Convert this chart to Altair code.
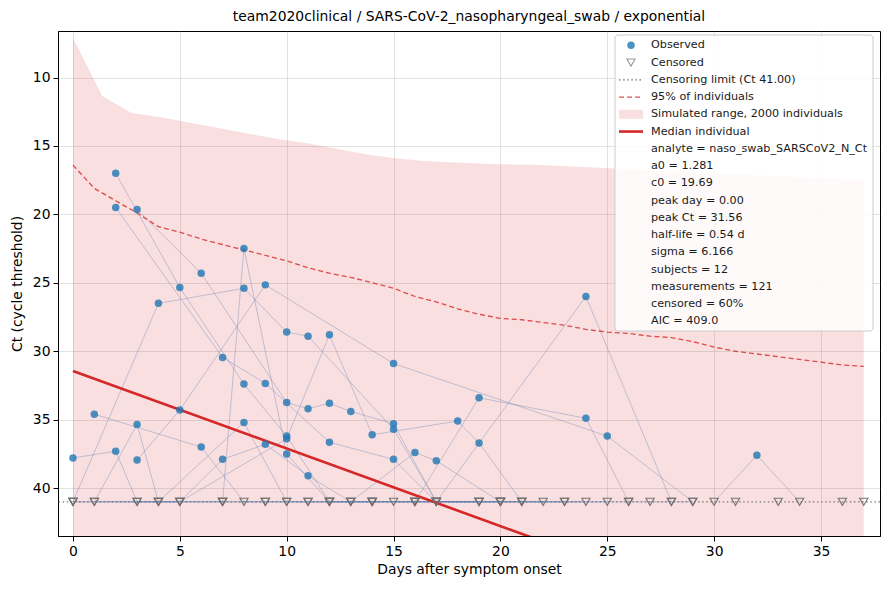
import altair as alt
import pandas as pd

FONT = "DejaVu Sans"
LOD = 41.0
C = None  # censored measurement (Ct >= limit)

# ---- per-subject measurements (day, Ct); None = censored ----
s01_day = [0, 2, 3, 5, 7, 9, 11, 13, 15, 17, 20]
s01_ct = [37.8, 37.3, C, C, C, C, C, C, C, C, C]
s02_day = [0, 4, 8, 10, 12, 14, 16, 19, 24, 26, 27, 28]
s02_ct = [C, C, 35.2, C, C, C, C, 33.4, 34.9, C, C, C]
s03_day = [1, 6, 8, 10, 12, 14, 16, 19, 21, 23]
s03_ct = [34.6, 37.0, C, C, C, C, C, C, C, C]
s04_day = [1, 3, 4, 7, 9, 11, 13, 17, 24, 28, 29]
s04_ct = [C, 35.35, C, C, C, C, C, C, 26.0, C, C]
s05_day = [3, 5, 9, 15, 25, 29]
s05_ct = [37.95, 34.3, 25.15, 30.9, 36.2, C]
s06_day = [2, 5, 8, 10, 12, 14, 16, 19, 21]
s06_ct = [17.0, 25.35, 32.4, 36.2, C, C, C, C, C]
s07_day = [3, 6, 10, 11, 12, 13, 15, 17, 20]
s07_ct = [19.65, 24.3, 33.75, 34.2, 33.8, 34.4, 35.3, C, C]
s08_day = [1, 4, 7, 8, 10, 12, 14, 16, 19]
s08_ct = [C, C, C, 22.5, 37.5, C, C, C, C]
s09_day = [0, 4, 8, 10, 11, 15, 17, 20, 24]
s09_ct = [C, 26.5, 25.4, 28.6, 28.9, 35.7, C, C, C]
s10_day = [2, 7, 9, 12, 15, 17, 20, 25]
s10_ct = [19.5, 30.45, 32.35, 36.65, 37.9, C, C, C]
s11_day = [3, 5, 7, 9, 11, 13, 16, 17, 20, 22]
s11_ct = [C, C, 37.9, 36.8, 39.1, C, 37.4, 38.0, C, C]
s12_day = [0, 5, 10, 12, 14, 18, 19, 21, 23, 26]
s12_ct = [C, C, 36.4, 28.8, 36.1, 35.1, 36.7, C, C, C]
s13_day = [30, 32, 34]
s13_ct = [C, 37.6, C]
iso_cens_day = [31, 33, 36, 37]

# ---- simulated range (upper edge = lowest Ct) ----
band_day = [0, 1.37, 2.74, 4.11, 5.48, 6.85, 8.22, 9.59, 10.96, 12.33, 13.70,
            15.07, 16.44, 17.81, 19.19, 20.56, 21.93, 23.30, 24.67, 26.04,
            27.41, 28.78, 30.15, 31.52, 32.89, 34.26, 35.63, 37.0]
band_low_ct = [7.1, 11.35, 12.6, 12.9, 13.3, 13.7, 14.1, 14.5, 14.8, 15.2, 15.6,
               15.9, 16.1, 16.2, 16.3, 16.35, 16.4, 16.5, 16.6, 16.7,
               16.8, 16.9, 17.0, 17.1, 17.2, 17.3, 17.4, 17.5]
band_high_ct = [60.0] * len(band_day)

# ---- 95% of individuals (dashed) ----
p95_day = list(range(0, 38))
p95_ct = [16.4, 18.1, 19.0, 19.9, 20.9, 21.3, 21.8, 22.2, 22.6, 23.0,
          23.4, 23.9, 24.3, 24.6, 25.0, 25.4, 26.0, 26.4, 26.9, 27.3,
          27.6, 27.7, 27.9, 28.1, 28.4, 28.6, 28.7, 28.9, 29.0, 29.3,
          29.7, 30.0, 30.2, 30.4, 30.6, 30.8, 31.0, 31.1]

# ---- median individual ----
med_day = [0, 37]
med_ct = [31.45, 52.4]

legend_labels = [
    "Observed", "Censored", "Censoring limit (Ct 41.00)", "95% of individuals",
    "Simulated range, 2000 individuals", "Median individual",
    "analyte = naso_swab_SARSCoV2_N_Ct", "a0 = 1.281", "c0 = 19.69",
    "peak day = 0.00", "peak Ct = 31.56", "half-life = 0.54 d",
    "sigma = 6.166", "subjects = 12", "measurements = 121",
    "censored = 60%", "AIC = 409.0",
]

# ---- build tables ----
subjects = [
    ("S01", s01_day, s01_ct), ("S02", s02_day, s02_ct), ("S03", s03_day, s03_ct),
    ("S04", s04_day, s04_ct), ("S05", s05_day, s05_ct), ("S06", s06_day, s06_ct),
    ("S07", s07_day, s07_ct), ("S08", s08_day, s08_ct), ("S09", s09_day, s09_ct),
    ("S10", s10_day, s10_ct), ("S11", s11_day, s11_ct), ("S12", s12_day, s12_ct),
    ("S13", s13_day, s13_ct),
]
rows = []
for sid, days, cts in subjects:
    for d, c in zip(days, cts):
        rows.append({"subject": sid, "day": d, "ct": LOD if c is None else c,
                     "cens": c is None})
for d in iso_cens_day:
    rows.append({"subject": "iso%d" % d, "day": d, "ct": LOD, "cens": True})
meas = pd.DataFrame(rows)
obs = meas[~meas["cens"]]
cens = meas[meas["cens"]]
lines_df = meas[~meas["subject"].str.startswith("iso")]

band = pd.DataFrame({"day": band_day, "lo": band_low_ct, "hi": band_high_ct})
p95 = pd.DataFrame({"day": p95_day, "ct": p95_ct})
med = pd.DataFrame({"day": med_day, "ct": med_ct})

xscale = alt.Scale(domain=[-0.7, 37.76], nice=False, zero=False)
yscale = alt.Scale(domain=[6.6, 43.5], reverse=True, nice=False, zero=False)
xaxis = alt.Axis(values=[0, 5, 10, 15, 20, 25, 30, 35], title="Days after symptom onset",
                 grid=True, format="d")
yaxis = alt.Axis(values=[10, 15, 20, 25, 30, 35, 40], title="Ct (cycle threshold)",
                 grid=True, format="d")


def X(field="day"):
    return alt.X(f"{field}:Q", scale=xscale, axis=xaxis, title="Days after symptom onset")


def Y(field="ct"):
    return alt.Y(f"{field}:Q", scale=yscale, axis=yaxis, title="Ct (cycle threshold)")


RED = "#d62728"
BLUE = "#1f77b4"
PT_SIZE = 56
TRI_SIZE = 68

band_layer = alt.Chart(band).mark_area(color=RED, opacity=0.15, clip=True).encode(
    x=X(), y=Y("lo"), y2="hi:Q")

lod_layer = alt.Chart(pd.DataFrame({"ct": [LOD]})).mark_rule(
    color="#6e6e6e", strokeDash=[1.5, 2.6], strokeWidth=1.3, opacity=0.9).encode(y=Y())

subj_layer = alt.Chart(lines_df).mark_line(
    color="#5279b3", opacity=0.34, strokeWidth=1, clip=True).encode(
    x=X(), y=Y(), detail="subject:N", order="day:Q")

p95_layer = alt.Chart(p95).mark_line(
    color=RED, opacity=0.8, strokeDash=[5, 3], strokeWidth=1.3, clip=True).encode(x=X(), y=Y())

med_layer = alt.Chart(med).mark_line(color=RED, strokeWidth=2.6, clip=True).encode(x=X(), y=Y())

obs_layer = alt.Chart(obs).mark_circle(color=BLUE, opacity=0.8, size=PT_SIZE).encode(x=X(), y=Y())

cens_layer = alt.Chart(cens).mark_point(
    shape="triangle-down", filled=False, color="#707070", size=TRI_SIZE, strokeWidth=1.1,
    opacity=0.95).encode(x=X(), y=Y())

# ---- legend (pixel layout) ----
ROW0 = 14.3
STEP = 17.25
one = pd.DataFrame({"a": [0]})
leg_box = alt.Chart(one).mark_rect(
    fill="white", fillOpacity=0.85, stroke="#cccccc", strokeWidth=1, cornerRadius=3).encode(
    x=alt.value(557), x2=alt.value(815), y=alt.value(4), y2=alt.value(300))

leg_df = pd.DataFrame({"label": legend_labels, "row": list(range(len(legend_labels)))})
leg_text = alt.Chart(leg_df).transform_calculate(
    py=f"{ROW0} + datum.row * {STEP}").mark_text(
    align="left", baseline="middle", font=FONT, fontSize=11.2, color="#1a1a1a").encode(
    x=alt.value(593), y=alt.Y("py:Q", scale=None), text="label:N")


def ry(i):
    return ROW0 + i * STEP


leg_obs = alt.Chart(one).mark_circle(color=BLUE, opacity=0.8, size=PT_SIZE).encode(
    x=alt.value(573), y=alt.value(ry(0)))
leg_cens = alt.Chart(one).mark_point(
    shape="triangle-down", filled=False, color="#707070", size=TRI_SIZE, strokeWidth=1.1).encode(
    x=alt.value(573), y=alt.value(ry(1)))
leg_lod = alt.Chart(one).mark_rule(
    color="#6e6e6e", strokeDash=[1.5, 2.6], strokeWidth=1.3).encode(
    x=alt.value(561), x2=alt.value(585), y=alt.value(ry(2)))
leg_p95 = alt.Chart(one).mark_rule(
    color=RED, opacity=0.8, strokeDash=[5, 3], strokeWidth=1.3).encode(
    x=alt.value(561), x2=alt.value(585), y=alt.value(ry(3)))
leg_band = alt.Chart(one).mark_rect(color=RED, opacity=0.15).encode(
    x=alt.value(561), x2=alt.value(585), y=alt.value(ry(4) - 4.5), y2=alt.value(ry(4) + 4.5))
leg_med = alt.Chart(one).mark_rule(color=RED, strokeWidth=2.6).encode(
    x=alt.value(561), x2=alt.value(585), y=alt.value(ry(5)))

chart = alt.layer(
    band_layer, lod_layer, subj_layer, p95_layer, med_layer, obs_layer, cens_layer,
    leg_box, leg_text, leg_obs, leg_cens, leg_lod, leg_p95, leg_band, leg_med,
).properties(
    width=822, height=505,
    title=alt.TitleParams(
        "team2020clinical / SARS-CoV-2_nasopharyngeal_swab / exponential",
        font=FONT, fontSize=13.9, fontWeight="normal", color="black",
        anchor="middle", frame="group", offset=7),
    autosize=alt.AutoSizeParams(type="none"),
    padding={"left": 50, "top": 23, "right": 2, "bottom": 46},
).configure_view(
    stroke="black", strokeWidth=1
).configure_axis(
    labelFont=FONT, titleFont=FONT, labelFontSize=13.9, titleFontSize=13.9,
    titleFontWeight="normal", labelColor="black", titleColor="black",
    domainColor="black", tickColor="black", tickSize=5, labelPadding=3,
    gridColor="#b0b0b0", gridOpacity=0.35, gridWidth=1,
).configure_axisX(titlePadding=5).configure_axisY(titlePadding=8)

chart.save("out.html", embed_options={"renderer": "svg", "actions": False})
